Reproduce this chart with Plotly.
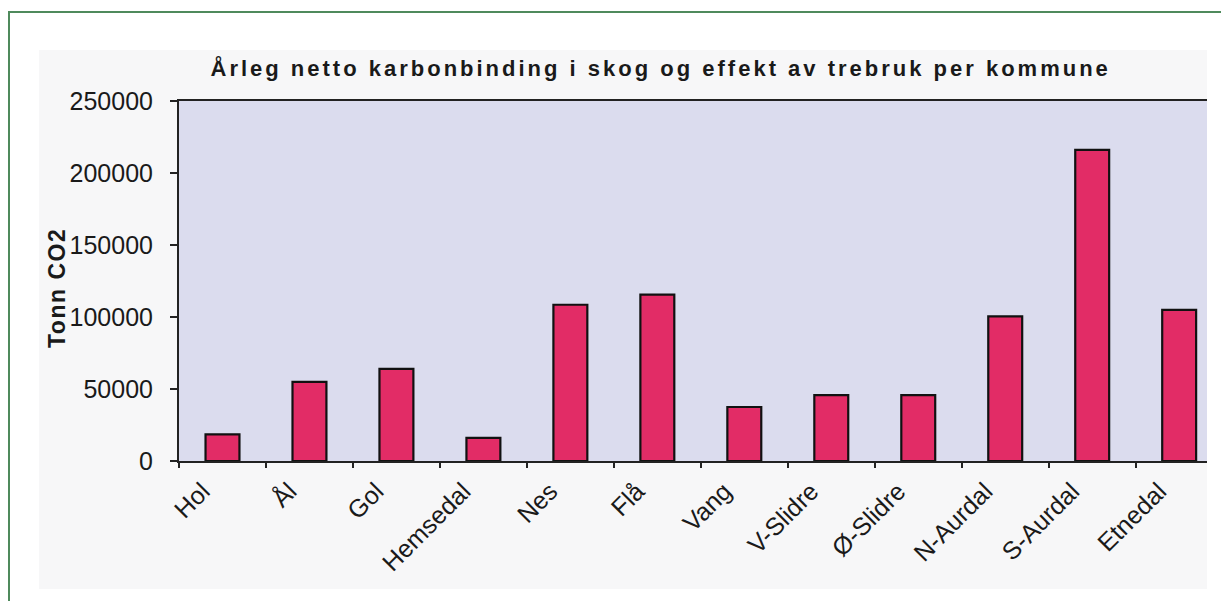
import plotly.graph_objects as go

kommuner = ["Hol", "Ål", "Gol", "Hemsedal", "Nes", "Flå", "Vang",
            "V-Slidre", "Ø-Slidre", "N-Aurdal", "S-Aurdal", "Etnedal"]
tonn_co2 = [18500, 55000, 64000, 16000, 108500, 115500, 37500,
            45700, 45700, 100500, 216000, 105000]
y_ticks = [0, 50000, 100000, 150000, 200000, 250000]

FONT = "Liberation Sans, Arial, sans-serif"
W, H = 1221, 601
L, R, T, B = 179, 1207, 101, 461  # plot area in pixels


def px(x):
    return (x - L) / (R - L)


def py(y):
    return (B - y) / (B - T)


fig = go.Figure(
    go.Bar(
        x=kommuner,
        y=tonn_co2,
        width=0.39,
        marker=dict(color="#E22C66", line=dict(color="#111111", width=2.2)),
    )
)

fig.update_layout(
    width=W,
    height=H,
    margin=dict(l=L, r=W - R, t=T, b=H - B, pad=0),
    paper_bgcolor="white",
    plot_bgcolor="rgba(0,0,0,0)",
    showlegend=False,
    font=dict(family=FONT, color="#1a1a1a"),
    shapes=[
        # scanned page background
        dict(type="rect", xref="paper", yref="paper",
             x0=px(39), x1=px(1207), y0=py(589), y1=py(50),
             fillcolor="#F7F7F8", line=dict(width=0), layer="below"),
        # plot area lavender
        dict(type="rect", xref="paper", yref="paper",
             x0=0, x1=1, y0=0, y1=1,
             fillcolor="#DBDCEE", line=dict(width=0), layer="below"),
        # green frame
        dict(type="rect", xref="paper", yref="paper",
             x0=px(9), x1=px(1260), y0=py(640), y1=py(12),
             fillcolor="rgba(0,0,0,0)", line=dict(color="#4F8A5C", width=2),
             layer="below"),
    ],
    annotations=[
        dict(text="<b>Årleg netto karbonbinding i skog og effekt av trebruk per kommune</b>",
             xref="paper", yref="paper", x=px(660), y=py(68),
             xanchor="center", yanchor="middle", showarrow=False,
             font=dict(size=22, family=FONT, color="#1a1a1a")),
        dict(text="<b>Tonn CO2</b>",
             xref="paper", yref="paper", x=px(57), y=py(288),
             xanchor="center", yanchor="middle", showarrow=False, textangle=-90,
             font=dict(size=23, family=FONT, color="#1a1a1a")),
    ],
)

fig.update_xaxes(
    type="category",
    range=[-0.5, 11.32],
    showline=True, linecolor="#222222", linewidth=1.6, mirror=True,
    ticks="outside", ticklen=5, tickcolor="#222222", tickwidth=1.5,
    tickson="boundaries",
    tickangle=-45,
    ticklabelshift=-20,
    ticklabelstandoff=4,
    tickfont=dict(size=25, family=FONT, color="#1a1a1a"),
    showgrid=False, zeroline=False,
)

fig.update_yaxes(
    range=[0, 250000],
    tickvals=y_ticks,
    ticktext=[str(v) for v in y_ticks],
    showline=True, linecolor="#222222", linewidth=2,
    ticks="outside", ticklen=7, tickcolor="#222222", tickwidth=1.5,
    ticklabelstandoff=12,
    tickfont=dict(size=25, family=FONT, color="#1a1a1a"),
    showgrid=False, zeroline=False,
)

post = """
document.body.style.margin = '0';
function spaceText() {
  var anns = document.querySelectorAll('.annotation-text');
  if (anns.length > 0) { anns[0].style.letterSpacing = '3px'; }
  if (anns.length > 1) { anns[1].style.letterSpacing = '1.5px'; }
}
spaceText();
setTimeout(spaceText, 50);
"""

fig.write_html("out.html", post_script=post, config={"displayModeBar": False})
